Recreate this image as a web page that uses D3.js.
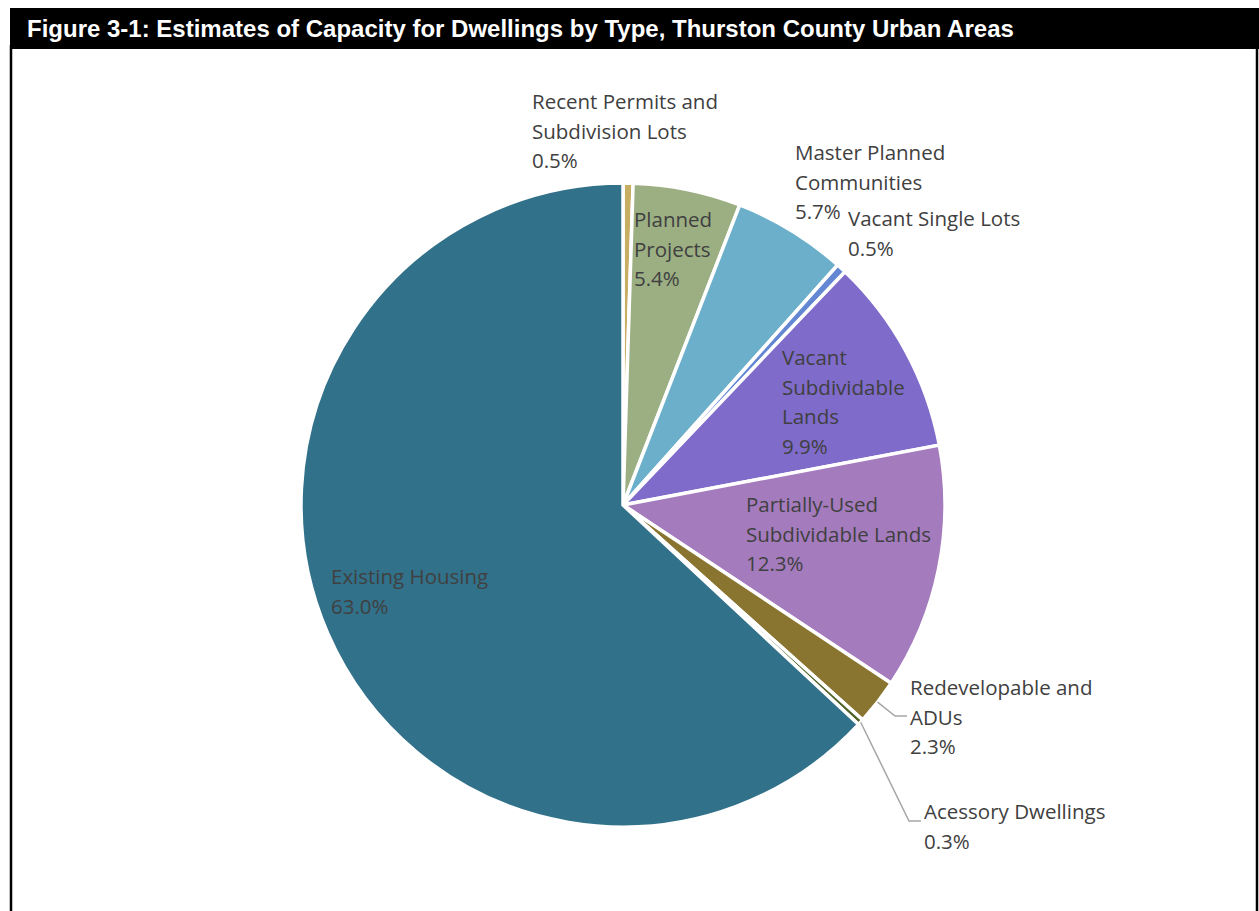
<!DOCTYPE html>
<html>
<head>
<meta charset="utf-8">
<script src="https://cdn.jsdelivr.net/npm/d3@7"></script>
<style>
  html, body { margin: 0; padding: 0; background: #fff; }
  svg { display: block; }
</style>
</head>
<body>
<script>
// Dwelling capacity by type (percent of total), clockwise from 12 o'clock
const categories = [
  "Recent Permits and Subdivision Lots",
  "Planned Projects",
  "Master Planned Communities",
  "Vacant Single Lots",
  "Vacant Subdividable Lands",
  "Partially-Used Subdividable Lands",
  "Redevelopable and ADUs",
  "Acessory Dwellings",
  "Existing Housing"
];
const shares = [0.5, 5.4, 5.7, 0.5, 9.9, 12.3, 2.3, 0.3, 63.0];
const labelLines = [
  ["Recent Permits and", "Subdivision Lots"],
  ["Planned", "Projects"],
  ["Master Planned", "Communities"],
  ["Vacant Single Lots"],
  ["Vacant", "Subdividable", "Lands"],
  ["Partially-Used", "Subdividable Lands"],
  ["Redevelopable and", "ADUs"],
  ["Acessory Dwellings"],
  ["Existing Housing"]
];
const sliceColors = [
  "#C8AE62", "#9CAF83", "#6BAFCA", "#6487D4", "#7F6BC9",
  "#A47BBD", "#8A7530", "#4F6228", "#31718A"
];

// Layout: where each label block starts (left edge, first baseline)
const labelAnchor = [
  [532, 109], [634, 227], [795, 160], [848, 226], [782, 365],
  [746, 512], [910, 695], [924, 819], [331, 584]
];
// Elbow points for labels that sit outside their slice
const leaderElbow = { 6: [895, 716], 7: [909, 821] };

const W = 1259, H = 911;
const cx = 623, cy = 505, R = 322;

const svg = d3.select("body").append("svg")
  .attr("width", W).attr("height", H);

// Frame and title bar
svg.append("line").attr("x1", 11).attr("x2", 11).attr("y1", 45).attr("y2", H)
  .attr("stroke", "#000").attr("stroke-width", 2.5);
svg.append("line").attr("x1", 1257).attr("x2", 1257).attr("y1", 45).attr("y2", H)
  .attr("stroke", "#000").attr("stroke-width", 2.5);
svg.append("rect").attr("x", 10).attr("y", 8).attr("width", W - 10).attr("height", 41)
  .attr("fill", "#000");
svg.append("text")
  .attr("x", 27).attr("y", 37)
  .attr("fill", "#fff")
  .attr("font-family", "Liberation Sans, Arial, sans-serif")
  .attr("font-weight", "bold")
  .attr("font-size", 24)
  .text("Figure 3-1: Estimates of Capacity for Dwellings by Type, Thurston County Urban Areas");

const data = categories.map((c, i) => ({ name: c, value: shares[i], i }));

const pie = d3.pie().sort(null).value(d => d.value);
const arcs = pie(data);
const arc = d3.arc().innerRadius(0).outerRadius(R);

const g = svg.append("g").attr("transform", `translate(${cx},${cy})`);

g.selectAll("path.slice")
  .data(arcs)
  .join("path")
  .attr("class", "slice")
  .attr("d", arc)
  .attr("fill", d => sliceColors[d.data.i])
  .attr("stroke", "#fff")
  .attr("stroke-width", 3.5)
  .attr("stroke-linejoin", "miter");

// Leader lines from the outer edge of small slices to their labels
const edgeArc = d3.arc().innerRadius(R).outerRadius(R);
arcs.forEach(a => {
  const el = leaderElbow[a.data.i];
  if (!el) return;
  const p = edgeArc.centroid(a);
  const start = [cx + p[0], cy + p[1]];
  const anchor = labelAnchor[a.data.i];
  const end = [anchor[0] - 3, el[1]];
  svg.append("polyline")
    .attr("points", [start, el, end].map(q => q.join(",")).join(" "))
    .attr("fill", "none")
    .attr("stroke", "#A6A6A6")
    .attr("stroke-width", 1.5);
});

// Category + percentage labels
const fmt = d3.format(".1f");
const lineH = 29.5;
arcs.forEach(a => {
  const i = a.data.i;
  const lines = labelLines[i].concat([fmt(a.data.value) + "%"]);
  const t = svg.append("text")
    .attr("x", labelAnchor[i][0])
    .attr("y", labelAnchor[i][1])
    .attr("fill", "#404040")
    .attr("font-family", "Open Sans, Noto Sans, sans-serif")
    .attr("font-size", 20.5);
  lines.forEach((ln, k) => {
    t.append("tspan")
      .attr("x", labelAnchor[i][0])
      .attr("y", labelAnchor[i][1] + k * lineH)
      .text(ln);
  });
});
</script>
</body>
</html>
